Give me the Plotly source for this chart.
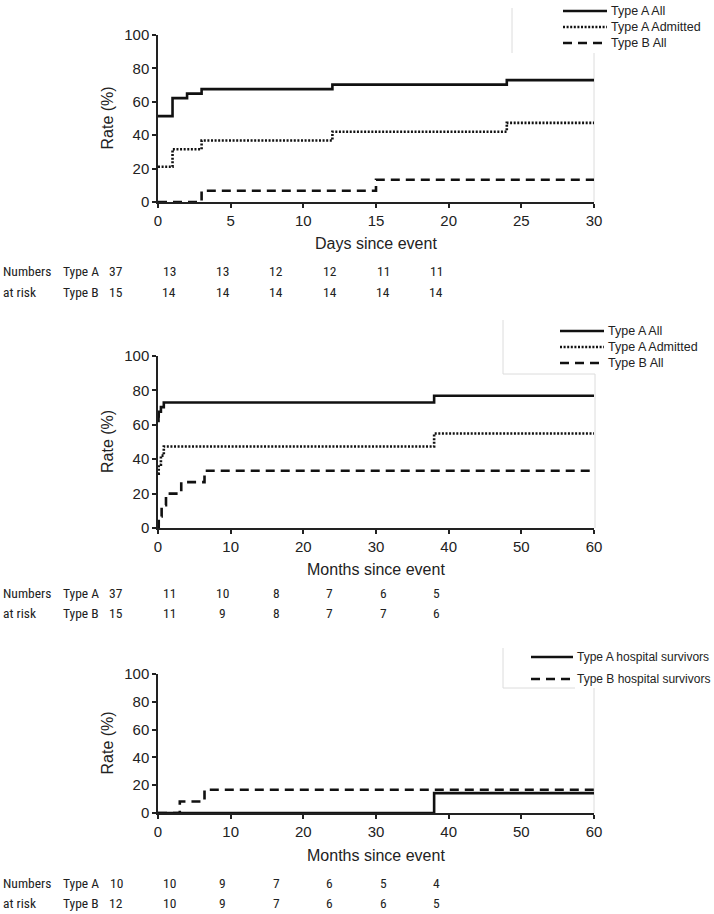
import plotly.graph_objects as go

W, H = 714, 914

# ---- panel 1: days since event ----
d_a_all_x = [0, 1, 2, 3, 12, 24, 30]
d_a_all_y = [51.4, 62.2, 64.9, 67.6, 70.3, 73.0, 73.0]
d_a_adm_x = [0, 1, 3, 12, 24, 30]
d_a_adm_y = [21.1, 31.6, 36.8, 42.1, 47.4, 47.4]
d_b_all_x = [0, 3, 15, 30]
d_b_all_y = [0, 6.7, 13.3, 13.3]
d_risk_a = [37, 13, 13, 12, 12, 11, 11]
d_risk_b = [15, 14, 14, 14, 14, 14, 14]

# ---- panel 2: months since event ----
m_a_all_x = [0, 0.07, 0.1, 0.4, 0.8, 38, 60]
m_a_all_y = [62.2, 64.9, 67.6, 70.3, 73.0, 76.9, 76.9]
m_a_adm_x = [0, 0.1, 0.4, 0.8, 38, 60]
m_a_adm_y = [31.6, 36.8, 42.1, 47.4, 54.9, 54.9]
m_b_all_x = [0, 0.1, 0.5, 1.1, 3.2, 6.4, 60]
m_b_all_y = [0, 6.7, 13.3, 20.0, 26.7, 33.3, 33.3]
m_risk_a = [37, 11, 10, 8, 7, 6, 5]
m_risk_b = [15, 11, 9, 8, 7, 7, 6]

# ---- panel 3: hospital survivors ----
s_a_x = [0, 38, 60]
s_a_y = [0, 14.3, 14.3]
s_b_x = [0, 3, 6.4, 60]
s_b_y = [0, 8.3, 16.7, 16.7]
s_risk_a = [10, 10, 9, 7, 6, 5, 4]
s_risk_b = [12, 10, 9, 7, 6, 6, 5]

names_1 = ["Type A All", "Type A Admitted", "Type B All"]
names_3 = ["Type A hospital survivors", "Type B hospital survivors"]
x_titles = ["Days since event", "Months since event", "Months since event"]
row_labels = ["Numbers", "at risk"]
group_labels = ["Type A", "Type B"]

SOLID, DOT, DASH = "solid", "2px,1.6px", "9px,6px"
INK = "#111111"
TXT = "#222222"
LW = 2.6
FONT = "Liberation Sans, Arial, sans-serif"
NARROW = "Liberation Sans Narrow, Roboto Condensed, Roboto, sans-serif"

# pixel layout (top-left origin)
X0, X1 = 158, 594
panels = [
    dict(top=35, bot=202, xmax=30, dtick=5, title_y=244, rows=(271, 292),
         legend=dict(x0=563, x1=607, tx=609, ys=(11, 27, 43), size=12.5)),
    dict(top=356, bot=528, xmax=60, dtick=10, title_y=569, rows=(593, 613),
         legend=dict(x0=560, x1=604, tx=606, ys=(331, 347, 363), size=12.5)),
    dict(top=674, bot=813, xmax=60, dtick=10, title_y=855, rows=(883, 903),
         legend=dict(x0=531, x1=573, tx=575, ys=(657, 679), size=12)),
]
series = [
    [(d_a_all_x, d_a_all_y, names_1[0], SOLID),
     (d_a_adm_x, d_a_adm_y, names_1[1], DOT),
     (d_b_all_x, d_b_all_y, names_1[2], DASH)],
    [(m_a_all_x, m_a_all_y, names_1[0], SOLID),
     (m_a_adm_x, m_a_adm_y, names_1[1], DOT),
     (m_b_all_x, m_b_all_y, names_1[2], DASH)],
    [(s_a_x, s_a_y, names_3[0], SOLID),
     (s_b_x, s_b_y, names_3[1], DASH)],
]
risks = [(d_risk_a, d_risk_b), (m_risk_a, m_risk_b), (s_risk_a, s_risk_b)]


def px(x):
    return x / W


def py(y):
    return 1 - y / H


def note(x, y, text, size, family=FONT, xanchor="center", angle=0):
    return dict(x=px(x), y=py(y), xref="paper", yref="paper", text=text,
                showarrow=False, xanchor=xanchor, yanchor="middle", textangle=angle,
                font=dict(family=family, size=size, color=TXT))


fig = go.Figure()
annotations = []
shapes = []

for i, (p, ser, rk) in enumerate(zip(panels, series, risks)):
    n = "" if i == 0 else str(i + 1)
    for xs, ys, name, dash in ser:
        fig.add_trace(go.Scatter(
            x=xs, y=ys, name=name, mode="lines", line_shape="hv",
            line=dict(color=INK, width=LW, dash=dash),
            xaxis="x" + n, yaxis="y" + n, cliponaxis=False, showlegend=False,
        ))

    axis_common = dict(showline=True, linecolor=TXT, linewidth=1.5,
                       ticks="outside", ticklen=4, tickwidth=1.5, tickcolor=TXT,
                       showgrid=False, zeroline=False, automargin=False,
                       tickfont=dict(family=FONT, size=15, color=TXT))
    fig.update_layout(**{
        "xaxis" + n: dict(domain=[px(X0), px(X1)], range=[0, p["xmax"]], dtick=p["dtick"],
                          anchor="y" + n, **axis_common),
        "yaxis" + n: dict(domain=[py(p["bot"]), py(p["top"])], range=[0, 100], dtick=20,
                          anchor="x" + n, **axis_common),
    })

    # axis titles
    annotations.append(note((X0 + X1) / 2, p["title_y"], x_titles[i], 16))
    annotations.append(note(107, (p["top"] + p["bot"]) / 2, "Rate (%)", 16, angle=-90))

    # legend drawn by hand so the line samples match the reference length
    lg = p["legend"]
    for (xs, ys, name, dash), ly in zip(ser, lg["ys"]):
        shapes.append(dict(type="line", xref="paper", yref="paper",
                           x0=px(lg["x0"]), x1=px(lg["x1"]), y0=py(ly), y1=py(ly),
                           line=dict(color=INK, width=LW, dash=dash)))
        annotations.append(note(lg["tx"], ly, name, lg["size"], xanchor="left"))

    # numbers at risk table
    for r, (lab, grp, vals) in enumerate(zip(row_labels, group_labels, rk)):
        ry = p["rows"][r]
        annotations.append(note(1, ry, lab, 13.5, NARROW, xanchor="left"))
        annotations.append(note(61, ry, grp, 13.5, NARROW, xanchor="left"))
        for k, v in enumerate(vals):
            annotations.append(note(116 + k * 53.4, ry, str(v), 13.5, NARROW))

# faint frame remnants around legends / right edge
GREY = "#dcdcdc"
frame = [
    (512, 8, 512, 53), (594, 53, 594, 202),
    (503, 320, 503, 374), (503, 374, 595, 374), (595, 374, 595, 528),
    (503, 648, 503, 688), (503, 688, 575, 688), (594, 688, 594, 813),
]
for x0, y0, x1, y1 in frame:
    shapes.insert(0, dict(type="line", xref="paper", yref="paper", layer="below",
                          x0=px(x0), y0=py(y0), x1=px(x1), y1=py(y1),
                          line=dict(color=GREY, width=1)))

fig.update_layout(
    width=W, height=H,
    margin=dict(l=0, r=0, t=0, b=0, pad=0),
    paper_bgcolor="white", plot_bgcolor="white",
    showlegend=False,
    annotations=annotations,
    shapes=shapes,
)

# drop the default page margin so the 714x914 figure fills the window exactly
fig.write_html("out.html", config={"displayModeBar": False},
               post_script="document.body.style.margin = '0px';")
